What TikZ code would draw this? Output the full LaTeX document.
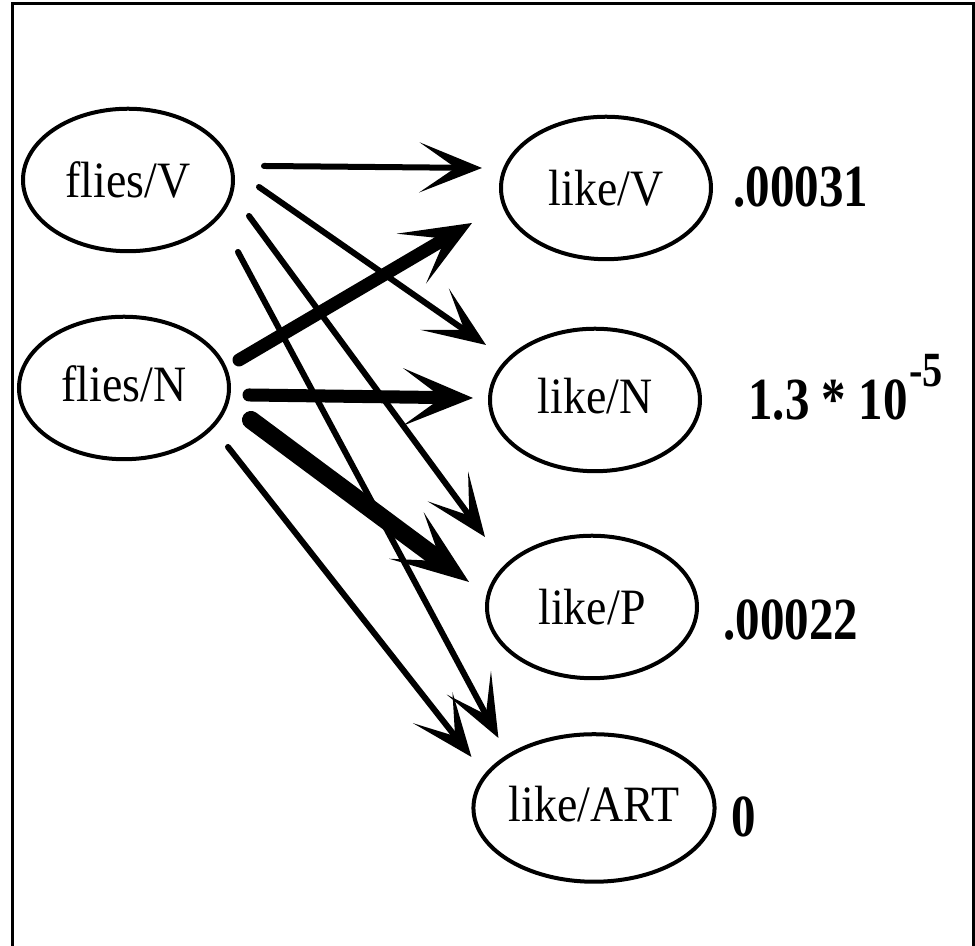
\documentclass[tikz,border=0pt]{standalone}
\usepackage{fontspec}
\setmainfont{Liberation Serif}[FakeStretch=0.9]
\newfontfamily\probfont{Liberation Serif}[FakeStretch=0.82]
\usetikzlibrary{arrows.meta,shapes.geometric}
\tikzset{
  tag/.style={draw,ellipse,line width=0.08cm,minimum width=4.2cm,minimum height=2.85cm,inner sep=0pt,font=\fontsize{29}{34}\selectfont},
  prob/.style={anchor=base west,inner sep=0pt,font=\probfont\bfseries\fontsize{34}{40}\selectfont},
  thinflow/.style={-{Stealth[length=1.25cm,width=1cm,inset=0.72cm]},line width=0.12cm,line cap=round},
  thickflow/.style={-{Stealth[length=1.4cm,width=1.15cm,inset=0.78cm]},line width=0.26cm,line cap=round},
  heavyflow/.style={-{Stealth[length=1.55cm,width=1.15cm,inset=0.85cm]},line width=0.36cm,line cap=round}
}

\begin{document}
\begin{tikzpicture}
  \useasboundingbox (0,0) rectangle (19.5,18.92);
  \draw[line width=0.06cm] (0.26,0) -- (0.26,18.84) -- (19.46,18.84) -- (19.46,0);

  % tags of "flies"
  \node[tag] (fliesV) at (2.56,15.32) {flies/V};
  \node[tag] (fliesN) at (2.48,11.16) {\raisebox{5pt}{flies/N}};

  % tags of "like"
  \node[tag] (likeV) at (12.12,15.16) {like/V};
  \node[tag] (likeN) at (11.90,10.92) {\raisebox{5pt}{like/N}};
  \node[tag] (likeP) at (11.84,6.78) {like/P};
  \node[tag,minimum width=4.45cm,minimum height=2.95cm] (likeART) at (11.88,2.76) {\raisebox{5pt}{like/ART}};

  % best scores
  \node[prob] (pV) at (14.66,14.78) {.00031};
  \node[prob] (pN) at (14.96,10.52) {1.3 * 10\raisebox{18.8pt}{\fontsize{28}{28}\selectfont\kern1pt-5}};
  \node[prob] (pP) at (14.46,6.12) {.00022};
  \node[prob] (pART) at (14.62,2.18) {0};

  % from flies/V
  \draw[thinflow] ([shift={(0.58,0.28)}]fliesV.east) -- ([shift={(-0.34,0.40)}]likeV.west);
  \draw[thinflow] ([shift={(0.48,-0.14)}]fliesV.east) -- ([shift={(-0.04,1.10)}]likeN.west);
  \draw[thinflow] ([shift={(0.28,-0.72)}]fliesV.east) -- ([shift={(0,1.40)}]likeP.west);
  \draw[thinflow] ([shift={(0.06,-1.44)}]fliesV.east) -- ([shift={(0.54,1.40)}]likeART.west);

  % from flies/N
  \draw[thickflow] ([shift={(0.16,0.56)}]fliesN.east) -- ([shift={(-0.54,-0.70)}]likeV.west);
  \draw[thickflow] ([shift={(0.36,-0.14)}]fliesN.east) -- ([shift={(-0.30,0.04)}]likeN.west);
  \draw[heavyflow] ([shift={(0.40,-0.64)}]fliesN.east) -- ([shift={(-0.32,0.50)}]likeP.west);
  \draw[thinflow] ([shift={(-0.06,-1.18)}]fliesN.east) -- ([shift={(0,1.02)}]likeART.west);
\end{tikzpicture}
\end{document}
